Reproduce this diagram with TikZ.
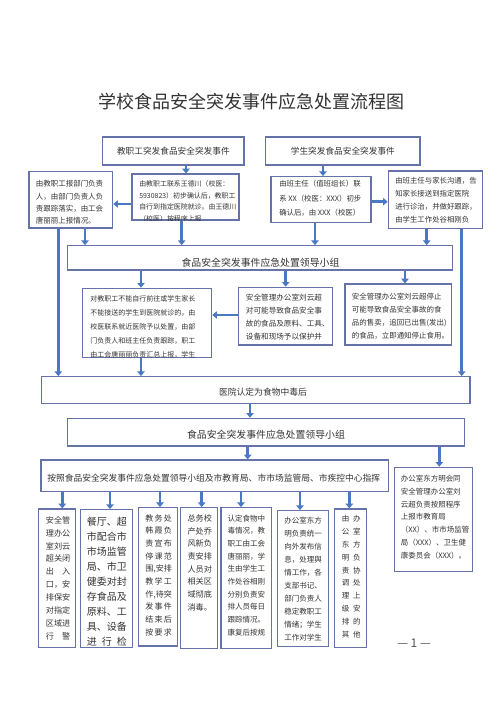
\documentclass[tikz,border=0pt]{standalone}
\usepackage{fontspec}
\setmainfont{Noto Sans CJK SC}
\usetikzlibrary{fit,arrows.meta}
\definecolor{bordc}{HTML}{6673A8}
\definecolor{arrc}{HTML}{4A78C2}
\definecolor{txtc}{HTML}{333333}
\definecolor{pgc}{HTML}{555555}
\newcommand\fs[2]{\fontsize{#1pt}{#2pt}\selectfont}
\newcommand\spl[2]{\makebox[\dimexpr #1pt*3/4\relax][l]{#2}}
\begin{document}
\begin{tikzpicture}[x=0.75pt,y=-0.75pt,
  box/.style={draw=bordc,line width=0.9pt,inner sep=0pt,rectangle},
  tx/.style={inner sep=0pt,anchor=north west,align=left,text=txtc},
  ct/.style={inner sep=0pt,anchor=center,text=txtc},
  arr/.style={draw=arrc,line width=2pt,-{Triangle[width=5.5pt,length=3.5pt]}}]
\useasboundingbox (0,0) rectangle (496,702);
\fill[white] (0,0) rectangle (496,702);

% title
\node[ct,font=\fs{13.5}{16}] (title) at (251,102) {学校食品安全突发事件应急处置流程图};

% top boxes
\node[box,fit={(102.7,137) (244,165)}] (T1) {};
\node[ct,font=\fs{6.5}{8}] (T1t) at (T1.center) {教职工突发食品安全突发事件};
\node[box,fit={(265.7,137) (420,165)}] (T2) {};
\node[ct,font=\fs{6.5}{8}] (T2t) at (T2.center) {学生突发食品安全突发事件};

% row 2
\node[box,fit={(29,171.7) (112.7,228)}] (A) {};
\begin{scope}\clip (A.south west) rectangle (A.north east);
\node[tx,font=\fs{5.6}{9.15}] (At) at (35.7,180.25) {由教职工报部门负责\\人，由部门负责人负\\责跟踪落实，由工会\\唐丽丽上报情况。};
\end{scope}
\node[box,fit={(132,174) (239,220)}] (B) {};
\begin{scope}\clip (B.south west) rectangle (B.north east);
\node[tx,font=\fs{5.2}{8.6}] (Bt) at (139,180.5) {由教职工联系王德川（校医：\\5930823）初步确认后，教职工\\自行到指定医院就诊。由王德川\\（校医）按程序上报};
\end{scope}
\node[box,fit={(271,176.7) (371,222.3)}] (C) {};
\begin{scope}\clip (C.south west) rectangle (C.north east);
\node[tx,font=\fs{5.55}{10.7}] (Ct) at (279,180.3) {由班主任（值班组长）联\\系 XX（校医：XXX）初步\\确认后，由 XXX（校医）};
\end{scope}
\node[box,fit={(388.3,171) (482.7,228.3)}] (D) {};
\begin{scope}\clip (D.south west) rectangle (D.north east);
\node[tx,font=\fs{5.55}{9.75}] (Dt) at (395,177.3) {由班主任与家长沟通，告\\知家长接送到指定医院\\进行诊治，并做好跟踪，\\由学生工作处谷相刚负};
\end{scope}

% leader 1
\node[box,fit={(67.3,245.7) (452.7,270)}] (L1) {};
\node[ct,font=\fs{7.4}{9}] (L1t) at (260.5,262.5) {食品安全突发事件应急处置领导小组};

% row 3
\node[box,fit={(82.7,288.3) (211.7,357.3)}] (E) {};
\begin{scope}\clip (E.south west) rectangle (E.north east);
\node[tx,font=\fs{5.25}{10.5}] (Et) at (90,294.8) {对教职工不能自行前往或学生家长\\不能接送的学生到医院就诊的，由\\校医联系就近医院予以处置，由部\\门负责人和班主任负责跟踪，职工\\由工会唐丽丽负责汇总上报，学生};
\end{scope}
\node[box,fit={(238.3,287.3) (332.3,345)}] (F) {};
\begin{scope}\clip (F.south west) rectangle (F.north east);
\node[tx,font=\fs{5.7}{9.8}] (Ft) at (245.7,293.5) {安全管理办公室刘云超\\对可能导致食品安全事\\故的食品及原料、工具、\\设备和现场予以保护并};
\end{scope}
\node[box,fit={(345,284) (451.7,345)}] (G) {};
\begin{scope}\clip (G.south west) rectangle (G.north east);
\node[tx,font=\fs{5.6}{9.8}] (Gt) at (351.7,292.95) {安全管理办公室刘云超停止\\可能导致食品安全事故的食\\品的售卖，追回已出售(发出)\\的食品，立即通知停止食用。};
\end{scope}

% hospital
\node[box,fit={(41.7,376.7) (470,403.3)}] (H0) {};
\node[ct,font=\fs{6.6}{8}] (H0t) at (263,392.5) {医院认定为食物中毒后};

% leader 2
\node[box,fit={(67.3,418.3) (464.3,446)}] (L2) {};
\node[ct,font=\fs{7.4}{9}] (L2t) at (266,434.5) {食品安全突发事件应急处置领导小组};

% instruction
\node[box,fit={(41,460) (388.3,491.7)}] (H) {};
\node[ct,font=\fs{6.57}{8}] (Ht) at (213.7,477.7) {按照食品安全突发事件应急处置领导小组及市教育局、市市场监管局、市疾控中心指挥};

\node[box,fit={(394.3,467.3) (472.3,571.7)}] (I) {};
\begin{scope}\clip (I.south west) rectangle (I.north east);
\node[tx,font=\fs{5.6}{9.7}] (It) at (400.7,474.55) {办公室东方明会同\\安全管理办公室刘\\云超负责按照程序\\上报市教育局\\（XX）、市市场监管\\局（XXX）、卫生健\\康委员会（XXX）。};
\end{scope}

% bottom boxes
\node[box,fit={(38.3,509) (75.7,647.7)}] (b1) {};
\begin{scope}\clip (b1.south west) rectangle (b1.north east);
\node[tx,font=\fs{6.1}{9.7}] (b1t) at (45.7,515.95) {安全管\\理办公\\室刘云\\超关闭\\\spl{24.3}{出\hfill 入}\\口，安\\排保安\\对指定\\区域进\\\spl{24.3}{行\hfill 警}};
\end{scope}
\node[box,fit={(80.7,509.7) (132.7,647.7)}] (b2) {};
\begin{scope}\clip (b2.south west) rectangle (b2.north east);
\node[tx,font=\fs{7.5}{11.2}] (b2t) at (86.7,517.3) {餐厅、超\\市配合市\\市场监管\\局、市卫\\健委对封\\存食品及\\原料、工\\具、设备\\\spl{40}{进\hfill 行\hfill 检}};
\end{scope}
\node[box,fit={(138.3,507.7) (177.7,646)}] (b3) {};
\begin{scope}\clip (b3.south west) rectangle (b3.north east);
\node[tx,font=\fs{6}{9.5}] (b3t) at (145,514.3) {\spl{26.7}{教\hfill 务\hfill 处}\\\spl{26.7}{韩\hfill 霞\hfill 负}\\\spl{26.7}{责\hfill 宣\hfill 布}\\\spl{26.7}{停\hfill 课\hfill 范}\\\spl{26.7}{围\hfill ,安排}\\\spl{26.7}{教\hfill 学\hfill 工}\\\spl{26.7}{作\hfill ,待突}\\\spl{26.7}{发\hfill 事\hfill 件}\\\spl{26.7}{结\hfill 束\hfill 后}\\\spl{26.7}{按\hfill 要\hfill 求}};
\end{scope}
\node[box,fit={(180.7,507.7) (217.3,648.3)}] (b4) {};
\begin{scope}\clip (b4.south west) rectangle (b4.north east);
\node[tx,font=\fs{6.1}{9.5}] (b4t) at (187.3,514.25) {总务校\\产处乔\\风新负\\责安排\\人员对\\相关区\\域彻底\\消毒。};
\end{scope}
\node[box,fit={(221,507.7) (271.7,648.3)}] (b5) {};
\begin{scope}\clip (b5.south west) rectangle (b5.north east);
\node[tx,font=\fs{5.65}{9.5}] (b5t) at (227.3,514.55) {认定食物中\\毒情况，教\\职工由工会\\唐丽丽，学\\生由学生工\\作处谷相刚\\分别负责安\\排人员每日\\跟踪情况。\\康复后按规};
\end{scope}
\node[box,fit={(277.7,510.7) (328.3,646.7)}] (b6) {};
\begin{scope}\clip (b6.south west) rectangle (b6.north east);
\node[tx,font=\fs{5.65}{9.7}] (b6t) at (284,517.25) {办公室东方\\明负责统一\\向外发布信\\息，处理舆\\情工作，各\\支部书记、\\部门负责人\\稳定教职工\\情绪；学生\\工作对学生};
\end{scope}
\node[box,fit={(334.3,509) (366.7,647.7)}] (b7) {};
\begin{scope}\clip (b7.south west) rectangle (b7.north east);
\node[tx,font=\fs{5.65}{9.6}] (b7t) at (341.5,515.25) {\spl{19}{由\hfill 办}\\\spl{19}{公\hfill 室}\\\spl{19}{东\hfill 方}\\\spl{19}{明\hfill 负}\\\spl{19}{责\hfill 协}\\\spl{19}{调\hfill 处}\\\spl{19}{理\hfill 上}\\\spl{19}{级\hfill 安}\\\spl{19}{排\hfill 的}\\\spl{19}{其\hfill 他}};
\end{scope}

% page number
\node[ct,font=\fs{9}{11},text=pgc] (pg) at (414,643.3) {— 1 —};

% column coordinates
\coordinate (xT1) at (186,0);
\coordinate (xT2) at (323,0);
\coordinate (xa1) at (58.3,0);
\coordinate (xa2) at (85,0);
\coordinate (xb) at (181.7,0);
\coordinate (xc) at (315,0);
\coordinate (xd1) at (426.7,0);
\coordinate (xd2) at (461.7,0);
\coordinate (xe) at (141,0);
\coordinate (xf) at (285.7,0);
\coordinate (xg) at (405,0);
\coordinate (xh0) at (250,0);
\coordinate (xh) at (247.7,0);
\coordinate (xi) at (439.3,0);
\coordinate (xq1) at (62.3,0);
\coordinate (xq2) at (110,0);
\coordinate (xq3) at (160,0);
\coordinate (xq4) at (201.7,0);
\coordinate (xq5) at (241,0);
\coordinate (xq6) at (300,0);
\coordinate (xq7) at (349.3,0);
\coordinate (yBA) at (0,204);
\coordinate (yCD) at (0,201.7);
\coordinate (yFE) at (0,315);

% connectors
\draw[arr] (T1.south -| xT1) -- (B.north -| xT1);
\draw[arr] (T2.south -| xT2) -- (C.north -| xT2);
\draw[arr] (B.west |- yBA) -- (A.east |- yBA);
\draw[arr] (C.east |- yCD) -- (D.west |- yCD);
\draw[arr] (A.south -| xa2) -- (L1.north -| xa2);
\draw[arr] (B.south -| xb) -- (L1.north -| xb);
\draw[arr] (C.south -| xc) -- (L1.north -| xc);
\draw[arr] (D.south -| xd1) -- (L1.north -| xd1);
\draw[arr] (A.south -| xa1) -- (H0.north -| xa1);
\draw[arr] (D.south -| xd2) -- (H0.north -| xd2);
\draw[arr] (L1.south -| xe) -- (E.north -| xe);
\draw[arr] (L1.south -| xf) -- (F.north -| xf);
\draw[arr] (L1.south -| xg) -- (G.north -| xg);
\draw[arr] (F.west |- yFE) -- (E.east |- yFE);
\draw[arr] (E.south -| xe) -- (H0.north -| xe);
\draw[arr] (H0.south -| xh0) -- (L2.north -| xh0);
\draw[arr] (L2.south -| xh) -- (H.north -| xh);
\draw[arr] (L2.south -| xi) -- (I.north -| xi);
\draw[arr] (H.south -| xq1) -- (b1.north -| xq1);
\draw[arr] (H.south -| xq2) -- (b2.north -| xq2);
\draw[arr] (H.south -| xq3) -- (b3.north -| xq3);
\draw[arr] (H.south -| xq4) -- (b4.north -| xq4);
\draw[arr] (H.south -| xq5) -- (b5.north -| xq5);
\draw[arr] (H.south -| xq6) -- (b6.north -| xq6);
\draw[arr] (H.south -| xq7) -- (b7.north -| xq7);
\end{tikzpicture}
\end{document}
